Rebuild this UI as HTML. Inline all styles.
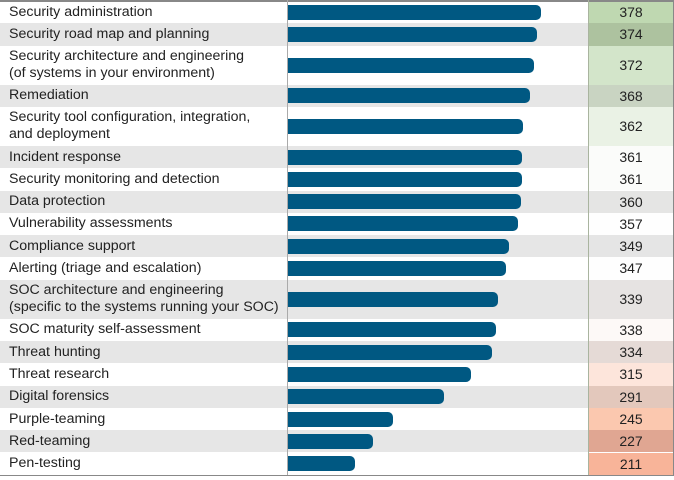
<!DOCTYPE html>
<html><head><meta charset="utf-8"><style>
body{margin:0;background:#fff;font-family:"Liberation Sans",sans-serif;}
#wrap{position:relative;width:674px;height:480px;overflow:hidden;}
.row{position:absolute;left:0;width:673px;}
.lbl{position:absolute;left:9px;top:0;height:100%;display:flex;align-items:center;font-size:14.2px;color:#222;line-height:17px;white-space:nowrap;}
.bar{position:absolute;left:287px;height:15px;background:#005882;border-radius:0 5px 5px 0;}
.val{position:absolute;left:589px;width:84px;font-size:14px;color:#222;text-align:center;}
</style></head><body>
<div id="wrap"></div>
<script>
const categories=["Security administration","Security road map and planning","Security architecture and engineering|(of systems in your environment)","Remediation","Security tool configuration, integration,|and deployment","Incident response","Security monitoring and detection","Data protection","Vulnerability assessments","Compliance support","Alerting (triage and escalation)","SOC architecture and engineering|(specific to the systems running your SOC)","SOC maturity self-assessment","Threat hunting","Threat research","Digital forensics","Purple-teaming","Red-teaming","Pen-testing"];
const values=[378,374,372,368,362,361,361,360,357,349,347,339,338,334,315,291,245,227,211];
const cellColors=["#bfd8b1","#adc29f","#d3e5ca","#c9d4c2","#eaf2e5","#fbfcfa","#fbfcfa","#e5e5e4","#fefefe","#e5e5e5","#fefefe","#e6e3e2","#fdf9f7","#e5dad6","#fde5db","#e3c8bc","#fbc8af","#e0a692","#f8b499"];
const wrap=document.getElementById('wrap');
const xs=v=>(v-150)*1.114;
let y=1;
const single=22.3,dbl=39;
categories.forEach((c,i)=>{
  const two=c.includes('|');const h=two?dbl:single;
  const r=document.createElement('div');r.className='row';
  
  
  r.style.top=y+'px';r.style.height=h+'px';
  r.style.background=i%2?'#e6e6e6':'#fff';
  const l=document.createElement('div');l.className='lbl';
  
  
  l.innerHTML='<span>'+c.split('|').join('<br>')+'</span>';
  r.appendChild(l);
  const b=document.createElement('div');b.className='bar';
  
  
  b.style.width=xs(values[i])+'px';b.style.top=(h-15)/2+'px';
  r.appendChild(b);
  const v=document.createElement('div');v.className='val';
  
  
  v.style.background=cellColors[i];v.style.height=h+'px';v.style.lineHeight=h+'px';
  v.textContent=values[i];
  r.appendChild(v);
  wrap.appendChild(r);
  y+=h;
});
function line(x,t,w,h,col,name){const d=document.createElement('div');d.style.cssText=`position:absolute;left:${x}px;top:${t}px;width:${w}px;height:${h}px;background:${col}`;


wrap.appendChild(d);}
line(0,0,674,1.5,'#888','top-border');
line(0,y,674,1.5,'#888','bottom-border');
line(287,0,1,y,'#aaa','axis-line');
line(588,0,1,y,'#a9b49f','value-divider');
line(673,0,1,y,'#888','right-border');
</script>
</body></html>
